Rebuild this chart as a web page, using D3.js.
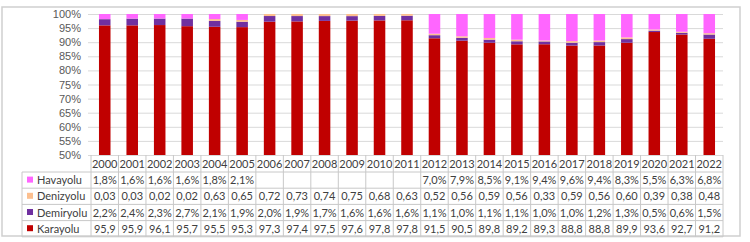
<!DOCTYPE html>
<html>
<head>
<meta charset="utf-8">
<script src="https://cdn.jsdelivr.net/npm/d3@7"></script>
<style>
  body { margin: 0; background: #fff; }
  svg { display: block; font-family: Lato, "Open Sans", sans-serif; }
  .grid line { stroke: #d9d9d9; }
  .grid path { display: none; }
  .tick text { fill: #595959; font-size: 11px; }
  .cell { fill: #404040; font-size: 11px; }
  .tbl { stroke: #c8c8c8; stroke-width: 1; }
</style>
</head>
<body>
<div id="chart"></div>
<script>
const years = ["2000","2001","2002","2003","2004","2005","2006","2007","2008","2009","2010","2011",
  "2012","2013","2014","2015","2016","2017","2018","2019","2020","2021","2022"];

const karayolu  = [95.9,95.9,96.1,95.7,95.5,95.3,97.3,97.4,97.5,97.6,97.8,97.8,91.5,90.5,89.8,89.2,89.3,88.8,88.8,89.9,93.6,92.7,91.2];
const demiryolu = [2.2,2.4,2.3,2.7,2.1,1.9,2.0,1.9,1.7,1.6,1.6,1.6,1.1,1.0,1.1,1.1,1.0,1.0,1.2,1.3,0.5,0.6,1.5];
const denizyolu = [0.03,0.03,0.02,0.02,0.63,0.65,0.72,0.73,0.74,0.75,0.68,0.63,0.52,0.56,0.59,0.56,0.33,0.59,0.56,0.60,0.39,0.38,0.48];
const havayolu  = [1.8,1.6,1.6,1.6,1.8,2.1,null,null,null,null,null,null,7.0,7.9,8.5,9.1,9.4,9.6,9.4,8.3,5.5,6.3,6.8];

const yTicks = [0.5,0.55,0.6,0.65,0.7,0.75,0.8,0.85,0.9,0.95,1];

// stack order bottom -> top
const series = [
  { key: "Karayolu",  values: karayolu,  color: "#c00000", digits: 1, pct: false },
  { key: "Demiryolu", values: demiryolu, color: "#7030a0", digits: 1, pct: true },
  { key: "Denizyolu", values: denizyolu, color: "#fcbf8f", digits: 2, pct: false },
  { key: "Havayolu",  values: havayolu,  color: "#ff66ff", digits: 1, pct: true }
];

function fmtCell(s, v) {
  if (v == null) return "";
  return v.toFixed(s.digits).replace(".", ",") + (s.pct ? "%" : "");
}

const W = 750, H = 242;
const plot = { left: 91, right: 723, top: 14, bottom: 155 };
const tableLeft = 22, rowH = 16.2, headerH = 17;

const svg = d3.select("#chart").append("svg").attr("width", W).attr("height", H);

// outer frame
svg.append("rect").attr("x", 2).attr("y", 7).attr("width", 738).attr("height", 229)
  .attr("fill", "none").attr("stroke", "#cfcfcf").attr("stroke-width", 1.5);

const x = d3.scaleBand().domain(years).range([plot.left, plot.right]).paddingInner(0).paddingOuter(0);
const y = d3.scaleLinear().domain([0.5, 1]).range([plot.bottom, plot.top]);

// gridlines + y labels
svg.append("g").attr("class", "grid")
  .attr("transform", `translate(${plot.left},0)`)
  .call(d3.axisLeft(y).tickValues(yTicks).tickFormat(d3.format(".0%")).tickSize(-(plot.right - plot.left)).tickPadding(10))
  .call(g => g.selectAll(".tick line").attr("x1", -3))
  .call(g => g.selectAll(".tick text").attr("font-size", 11));

// stacked bars, normalised like a 100% stacked chart
const rows = years.map((yr, i) => {
  const r = { year: yr };
  series.forEach(s => r[s.key] = s.values[i] || 0);
  return r;
});
const stacked = d3.stack().keys(series.map(s => s.key)).offset(d3.stackOffsetExpand)(rows);

svg.append("clipPath").attr("id", "clip").append("rect")
  .attr("x", plot.left).attr("y", plot.top).attr("width", plot.right - plot.left).attr("height", plot.bottom - plot.top);

const barW = x.bandwidth() * 0.42;
svg.append("g").attr("clip-path", "url(#clip)")
  .selectAll("g").data(stacked).join("g")
  .attr("fill", (d, i) => series[i].color)
  .selectAll("rect").data(d => d).join("rect")
  .attr("x", d => x(d.data.year) + (x.bandwidth() - barW) / 2)
  .attr("width", barW)
  .attr("y", d => y(d[1]))
  .attr("height", d => Math.max(0, y(d[0]) - y(d[1])));

// data table
const tbl = svg.append("g");
const headTop = plot.bottom, headBot = plot.bottom + headerH;
const tableRows = series.slice().reverse(); // Havayolu on top
const tableBot = headBot + rowH * tableRows.length;

years.forEach(yr => {
  tbl.append("text").attr("class", "cell")
    .attr("x", x(yr) + x.bandwidth() / 2).attr("y", headTop + headerH / 2 + 4)
    .attr("text-anchor", "middle").text(yr);
});

tableRows.forEach((s, r) => {
  const top = headBot + r * rowH;
  tbl.append("rect").attr("x", tableLeft + 5).attr("y", top + rowH / 2 - 3.5)
    .attr("width", 6).attr("height", 6).attr("fill", s.color);
  tbl.append("text").attr("class", "cell").attr("x", tableLeft + 15).attr("y", top + rowH / 2 + 4).text(s.key);
  years.forEach((yr, i) => {
    tbl.append("text").attr("class", "cell")
      .attr("x", x(yr) + x.bandwidth() / 2).attr("y", top + rowH / 2 + 4)
      .attr("text-anchor", "middle").text(fmtCell(s, s.values[i]));
  });
});

// table lines
d3.range(tableRows.length + 1).forEach(r => {
  const yy = headBot + r * rowH;
  tbl.append("line").attr("class", "tbl").attr("x1", tableLeft).attr("x2", plot.right).attr("y1", yy).attr("y2", yy);
});
tbl.append("line").attr("class", "tbl").attr("x1", tableLeft).attr("x2", tableLeft).attr("y1", headBot).attr("y2", tableBot);
years.concat([null]).forEach(yr => {
  const xx = yr ? x(yr) : plot.right;
  tbl.append("line").attr("class", "tbl").attr("x1", xx).attr("x2", xx).attr("y1", headTop).attr("y2", tableBot);
});
</script>
</body>
</html>
